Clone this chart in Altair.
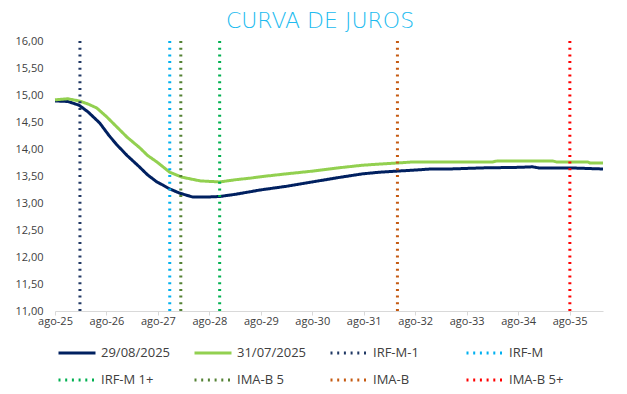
import altair as alt
import pandas as pd

# Years after Aug-2025 (x position) and yield values
t_2908 = [0, 0.25, 0.47, 0.65, 0.87, 1.05, 1.2, 1.4, 1.65, 1.8, 1.98, 2.1, 2.23, 2.43, 2.68, 2.95, 3.2, 3.5,
          3.98, 4.5, 5.0, 5.5, 5.98, 6.3, 6.64, 7.0, 7.3, 7.67, 8.3, 9.0, 9.28, 9.4, 10.0, 10.65]
v_2908 = [14.89, 14.88, 14.81, 14.68, 14.48, 14.25, 14.08, 13.88, 13.66, 13.52, 13.39, 13.33, 13.26, 13.18,
          13.11, 13.11, 13.12, 13.16, 13.24, 13.31, 13.39, 13.47, 13.54, 13.57, 13.59, 13.61, 13.63, 13.63,
          13.65, 13.66, 13.67, 13.65, 13.65, 13.63]

t_3107 = [0, 0.25, 0.47, 0.65, 0.81, 1.0, 1.2, 1.4, 1.65, 1.8, 1.98, 2.1, 2.23, 2.46, 2.82, 3.0, 3.2, 3.5,
          3.79, 4.12, 4.5, 5.0, 5.5, 5.98, 6.3, 6.64, 6.95, 7.67, 8.5, 8.6, 9.67, 9.75, 10.35, 10.4, 10.65]
v_3107 = [14.91, 14.93, 14.89, 14.83, 14.76, 14.60, 14.41, 14.22, 14.02, 13.88, 13.76, 13.67, 13.57, 13.48,
          13.41, 13.40, 13.39, 13.43, 13.46, 13.50, 13.54, 13.59, 13.65, 13.70, 13.72, 13.74, 13.76, 13.76,
          13.76, 13.78, 13.78, 13.76, 13.76, 13.74, 13.74]

index_names = ["IRF-M-1", "IRF-M", "IRF-M 1+", "IMA-B 5", "IMA-B", "IMA-B 5+"]
index_t = [0.485, 2.23, 3.20, 2.445, 6.655, 10.006]

series = ["29/08/2025", "31/07/2025"] + index_names
colors = ["#002060", "#92D050", "#203864", "#00B0F0", "#00B050", "#548235", "#C55A11", "#FF0000"]
dashes = [[1, 0], [1, 0]] + [[2, 4.7]] * 6
widths = [3, 3, 2, 2, 2, 2, 2, 2]
year_labels = list(range(0, 11))

curves = pd.DataFrame(
    [{"serie": "29/08/2025", "t": t, "v": v} for t, v in zip(t_2908, v_2908)]
    + [{"serie": "31/07/2025", "t": t, "v": v} for t, v in zip(t_3107, v_3107)]
)
rules = pd.DataFrame({"serie": index_names, "t": index_t})

color = alt.Color("serie:N", scale=alt.Scale(domain=series, range=colors), title=None,
                  legend=alt.Legend(orient="none", legendX=2, legendY=292, columns=4,
                                    direction="horizontal",
                                    gridAlign="all", columnPadding=18, rowPadding=0,
                                    symbolType="stroke", symbolSize=1369, labelOffset=4,
                                    labelFont="Open Sans", labelFontSize=13, labelColor="#404040",
                                    padding=0))
dash = alt.StrokeDash("serie:N", scale=alt.Scale(domain=series, range=dashes), title=None)
width = alt.StrokeWidth("serie:N", scale=alt.Scale(domain=series, range=widths), title=None)

x = alt.X("t:Q", scale=alt.Scale(domain=[0, 10.65], nice=False, zero=False),
          axis=alt.Axis(values=year_labels, labelExpr="'ago-' + (25 + datum.value)", title=None,
                        grid=False, domainColor="#d9d9d9", tickColor="#d9d9d9", tickSize=4,
                        labelOverlap=False, labelFlush=False,
                        labelFont="Open Sans", labelFontSize=11, labelColor="#404040", labelPadding=0))

lines = alt.Chart(curves).mark_line(strokeCap="butt").encode(
    x=x,
    y=alt.Y("v:Q", scale=alt.Scale(domain=[11, 16], nice=False, zero=False),
            axis=alt.Axis(values=[11 + 0.5 * i for i in range(11)],
                          labelExpr="replace(format(datum.value, '.2f'), '.', ',')",
                          title=None, grid=False, domain=False, ticks=False, labelPadding=12,
                          labelFont="Open Sans", labelFontSize=11, labelColor="#404040")),
    color=color, strokeDash=dash, strokeWidth=width,
    detail="serie:N",
)

vrules = alt.Chart(rules).mark_rule(strokeCap="butt").encode(
    x=alt.X("t:Q"), color=color, strokeDash=dash, strokeWidth=width,
)

chart = alt.layer(lines, vrules).properties(
    width=548, height=270,
    autosize=alt.AutoSizeParams(type="none"),
    padding={"left": 47, "top": 33, "right": 16, "bottom": 80},
    title=alt.TitleParams("CURVA DE JUROS", anchor="middle", font="DejaVu Sans", fontSize=22,
                          fontWeight=200, color="#21BBEF", offset=2, dx=-9),
).configure_view(stroke=None)

chart.save("out.html", embed_options={"renderer": "svg", "actions": False})
